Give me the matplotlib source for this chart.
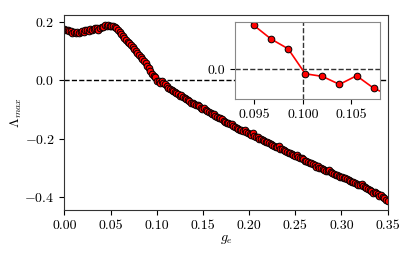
import numpy as np
import matplotlib
matplotlib.use('Agg')
import matplotlib.pyplot as plt

plt.rcParams['font.family'] = 'cmr10'
plt.rcParams['mathtext.fontset'] = 'cm'
plt.rcParams['axes.formatter.use_mathtext'] = True
plt.rcParams['font.size'] = 10

# coupling values (200 samples from 0 to 0.35)
g_e = np.linspace(0.0, 0.35, 200)

# largest Lyapunov exponent
lam_max = [
    0.175, 0.171, 0.173, 0.168, 0.170, 0.163, 0.166, 0.161, 0.167, 0.164,
    0.165, 0.169, 0.166, 0.171, 0.174, 0.170, 0.176, 0.172, 0.175, 0.179,
    0.178, 0.174, 0.181, 0.184, 0.182, 0.189, 0.186, 0.191, 0.188, 0.186,
    0.185, 0.182, 0.178, 0.172, 0.165, 0.160, 0.153, 0.146, 0.140, 0.133,
    0.127, 0.121, 0.113, 0.107, 0.099, 0.093, 0.086, 0.079, 0.072, 0.066,
    0.058, 0.050, 0.043, 0.031, 0.022, 0.0152, 0.0103, -0.0022, -0.0035, -0.0075,
    -0.0032, -0.0094, -0.0134, -0.021, -0.025, -0.030, -0.034, -0.037, -0.041, -0.045,
    -0.048, -0.052, -0.050, -0.057, -0.062, -0.065, -0.067, -0.072, -0.076, -0.078,
    -0.082, -0.085, -0.083, -0.089, -0.094, -0.097, -0.095, -0.102, -0.106, -0.108,
    -0.112, -0.115, -0.117, -0.121, -0.126, -0.130, -0.129, -0.134, -0.140, -0.142,
    -0.145, -0.147, -0.151, -0.150, -0.156, -0.160, -0.162, -0.166, -0.169, -0.171,
    -0.175, -0.172, -0.178, -0.181, -0.184, -0.186, -0.182, -0.190, -0.193, -0.196,
    -0.200, -0.202, -0.204, -0.207, -0.211, -0.213, -0.215, -0.220, -0.222, -0.225,
    -0.228, -0.230, -0.226, -0.234, -0.237, -0.240, -0.242, -0.245, -0.249, -0.250,
    -0.253, -0.256, -0.258, -0.255, -0.262, -0.266, -0.268, -0.270, -0.275, -0.277,
    -0.281, -0.283, -0.285, -0.288, -0.291, -0.298, -0.295, -0.299, -0.302, -0.305,
    -0.308, -0.310, -0.312, -0.309, -0.316, -0.319, -0.321, -0.323, -0.326, -0.328,
    -0.330, -0.333, -0.336, -0.335, -0.340, -0.342, -0.345, -0.347, -0.350, -0.352,
    -0.355, -0.358, -0.360, -0.357, -0.364, -0.367, -0.370, -0.372, -0.375, -0.379,
    -0.385, -0.383, -0.388, -0.391, -0.395, -0.393, -0.400, -0.404, -0.409, -0.415,
]

main_xticks = [0.00, 0.05, 0.10, 0.15, 0.20, 0.25, 0.30, 0.35]
main_yticks = [-0.4, -0.2, 0.0, 0.2]
inset_xticks = [0.095, 0.100, 0.105]
inset_yticks = [0.0]

fig = plt.figure(figsize=(4.15, 2.6), dpi=100)
ax = fig.add_axes([0.155, 0.192, 0.779, 0.749])

ax.plot(g_e, lam_max, '-o', color='red', lw=1.2, ms=4.8,
        markerfacecolor='red', markeredgecolor='black', markeredgewidth=0.7)
ax.axhline(0.0, color='black', ls='--', lw=1.0, zorder=0)
ax.set_xlim(0.0, 0.35)
ax.set_ylim(-0.445, 0.223)
ax.set_xticks(main_xticks)
ax.set_xticklabels(['%.2f' % t for t in main_xticks])
ax.set_yticks(main_yticks)
ax.set_xlabel(r'$g_e$', labelpad=1)
ax.set_ylabel(r'$\Lambda_{max}$', labelpad=0)
for sp in ax.spines.values():
    sp.set_color('#333333')

# zoom on the zero crossing
axin = fig.add_axes([0.566, 0.619, 0.349, 0.296])
axin.plot(g_e, lam_max, '-o', color='red', lw=1.2, ms=4.8,
          markerfacecolor='red', markeredgecolor='black', markeredgewidth=0.7)
axin.axhline(0.0, color='#333333', ls='--', lw=1.0, zorder=0)
axin.axvline(0.1, color='#333333', ls='--', lw=1.0, zorder=0)
axin.set_xlim(0.09302, 0.10791)
axin.set_ylim(-0.01485, 0.02365)
axin.set_xticks(inset_xticks)
axin.set_xticklabels(['%.3f' % t for t in inset_xticks])
axin.set_yticks(inset_yticks)
axin.set_yticklabels(['%.1f' % t for t in inset_yticks])
for sp in axin.spines.values():
    sp.set_color('#888888')

fig.savefig('out.png', dpi=100)
